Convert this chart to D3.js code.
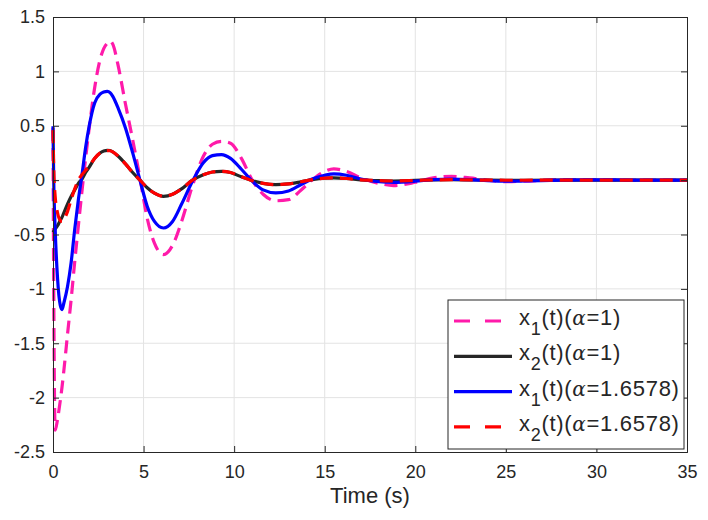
<!DOCTYPE html>
<html>
<head>
<meta charset="utf-8">
<script src="https://cdn.jsdelivr.net/npm/d3@7"></script>
<style>
  body { margin: 0; background: #fff; }
  text { font-family: "Liberation Sans", Arial, sans-serif; fill: #262626; }
</style>
</head>
<body>
<div id="chart"></div>
<script>
// sample times (s)
const time = [0, 0.04, 0.12, 0.25, 0.4, 0.5, 0.6, 0.8, 1.0, 1.2, 1.4, 1.6, 1.8, 2.0, 2.3, 2.6, 2.8, 3.0, 3.15, 3.3, 3.6, 4.0, 4.4, 4.8, 5.2, 5.6, 6.1, 6.6, 7.1, 7.7, 8.3, 8.8, 9.3, 9.8, 10.4, 11.0, 11.6, 12.3, 13.0, 13.7, 14.3, 15.0, 15.5, 16.2, 17.0, 18.0, 18.8, 20, 21, 22, 23, 24, 25, 26, 28, 30, 32, 35]

const x1a1 = [0.48, -1.0, -2.3, -2.2, -2.03, -1.9, -1.75, -1.42, -1.1, -0.75, -0.42, -0.1, 0.2, 0.48, 0.85, 1.11, 1.21, 1.26, 1.28, 1.25, 1.05, 0.7, 0.37, 0.02, -0.35, -0.58, -0.685, -0.6, -0.38, -0.05, 0.22, 0.33, 0.357, 0.34, 0.2, 0.0, -0.13, -0.19, -0.18, -0.09, 0.0, 0.08, 0.103, 0.08, 0.02, -0.03, -0.05, -0.02, 0.02, 0.035, 0.02, 0.0, -0.015, -0.01, 0.005, 0.005, 0, 0]

const x2a1 = [-0.48, -0.47, -0.45, -0.42, -0.37, -0.34, -0.3, -0.22, -0.15, -0.09, -0.03, 0.01, 0.07, 0.12, 0.2, 0.25, 0.267, 0.274, 0.272, 0.26, 0.22, 0.15, 0.07, 0.0, -0.07, -0.12, -0.149, -0.13, -0.08, 0.0, 0.05, 0.075, 0.081, 0.07, 0.03, -0.005, -0.03, -0.041, -0.035, -0.015, 0.005, 0.018, 0.02, 0.015, 0.003, -0.005, -0.008, -0.003, 0.002, 0.004, 0.002, 0, -0.001, -0.001, 0, 0, 0, 0]

const x1a2 = [0.495, 0.0, -0.45, -0.9, -1.15, -1.19, -1.13, -0.98, -0.76, -0.45, -0.18, 0.05, 0.3, 0.5, 0.71, 0.79, 0.81, 0.817, 0.805, 0.77, 0.66, 0.48, 0.25, 0.0, -0.24, -0.38, -0.44, -0.38, -0.22, -0.01, 0.16, 0.225, 0.235, 0.2, 0.1, -0.01, -0.09, -0.118, -0.1, -0.04, 0.01, 0.045, 0.057, 0.045, 0.01, -0.015, -0.02, -0.01, 0.005, 0.01, 0.005, -0.005, -0.01, -0.008, 0, 0.003, 0, 0]

const x2a2 = [0.46, 0.12, -0.15, -0.3, -0.37, -0.38, -0.36, -0.29, -0.18, -0.08, 0.0, 0.05, 0.09, 0.13, 0.2, 0.25, 0.265, 0.272, 0.27, 0.26, 0.22, 0.15, 0.07, 0.0, -0.07, -0.12, -0.149, -0.13, -0.08, 0.0, 0.05, 0.075, 0.081, 0.07, 0.03, -0.005, -0.03, -0.041, -0.035, -0.015, 0.005, 0.018, 0.02, 0.015, 0.003, -0.005, -0.008, -0.003, 0.002, 0.004, 0.002, 0, -0.001, -0.001, 0, 0, 0, 0]

const xTicks = [0, 5, 10, 15, 20, 25, 30, 35]
const yTicks = [-2.5, -2, -1.5, -1, -0.5, 0, 0.5, 1, 1.5]

const series = [
  { name: "x1a1", values: x1a1, sub: "1", alpha: "1", color: "#ff1aaa", dash: "13,7" },
  { name: "x2a1", values: x2a1, sub: "2", alpha: "1", color: "#262626", dash: null },
  { name: "x1a2", values: x1a2, sub: "1", alpha: "1.6578", color: "#0000ff", dash: null },
  { name: "x2a2", values: x2a2, sub: "2", alpha: "1.6578", color: "#ff0000", dash: "13,7" }
]

const width = 708
const height = 520
const margin = { top: 17, left: 53, bottom: 68, right: 21 }
const iwidth = width - margin.left - margin.right
const iheight = height - margin.top - margin.bottom

const svg = d3.select("#chart").append("svg")
  .attr("width", width)
  .attr("height", height)

const g = svg.append("g")
  .attr("transform", `translate(${margin.left}, ${margin.top})`)

const x = d3.scaleLinear().domain([0, 35]).range([0, iwidth])
const y = d3.scaleLinear().domain([-2.5, 1.5]).range([iheight, 0])

// grid
g.append("g")
  .attr("stroke", "#e3e3e3")
  .attr("stroke-width", 1)
  .call(g => g.selectAll(".vx").data(xTicks.slice(1, -1)).join("line")
    .attr("x1", d => x(d)).attr("x2", d => x(d))
    .attr("y1", 0).attr("y2", iheight))
  .call(g => g.selectAll(".hy").data(yTicks.slice(1, -1)).join("line")
    .attr("y1", d => y(d)).attr("y2", d => y(d))
    .attr("x1", 0).attr("x2", iwidth))

const plot = g.append("g")
const line = d3.line()
  .x((d, i) => x(time[i]))
  .y(d => y(d))
  .curve(d3.curveMonotoneX)

series.forEach(s => {
  plot.append("path")
    .datum(s.values)
    .attr("fill", "none")
    .attr("stroke", s.color)
    .attr("stroke-width", 3.2)
    .attr("stroke-dasharray", s.dash)
    .attr("d", line)
})

// axes, ticks inside, box
const axisColor = "#262626"
g.append("g")
  .attr("transform", `translate(0, ${iheight})`)
  .call(d3.axisBottom(x).tickValues(xTicks).tickSize(-6).tickPadding(13).tickFormat(d3.format("d")))
g.append("g")
  .call(d3.axisLeft(y).tickValues(yTicks).tickSize(-6).tickPadding(8).tickFormat(d => d))
g.append("g")
  .call(d3.axisTop(x).tickValues(xTicks).tickSize(-6).tickFormat(""))
g.append("g")
  .attr("transform", `translate(${iwidth}, 0)`)
  .call(d3.axisRight(y).tickValues(yTicks).tickSize(-6).tickFormat(""))

g.selectAll(".domain, .tick line").attr("stroke", axisColor)
g.selectAll(".tick text").attr("font-size", 18).attr("fill", axisColor)
  .style("font-family", "Liberation Sans, Arial, sans-serif")

g.append("text")
  .attr("x", iwidth / 2)
  .attr("y", iheight + 51)
  .attr("text-anchor", "middle")
  .attr("font-size", 22)
  .text("Time (s)")

// legend
const legend = svg.append("g").attr("transform", "translate(448, 300)")
legend.append("rect")
  .attr("width", 236).attr("height", 149)
  .attr("fill", "#fff")
  .attr("stroke", axisColor)
  .attr("stroke-width", 1)

series.forEach((s, i) => {
  const cy = 21 + i * 35.3
  legend.append("line")
    .attr("x1", 6).attr("x2", 64)
    .attr("y1", cy).attr("y2", cy)
    .attr("stroke", s.color)
    .attr("stroke-width", 3.2)
    .attr("stroke-dasharray", s.dash ? "16,15" : null)
  const t = legend.append("text")
    .attr("x", 71).attr("y", cy + 4)
    .attr("font-size", 22)
    .attr("letter-spacing", 0.7)
    .attr("fill", "#000")
  t.append("tspan").text("x")
  t.append("tspan").attr("dy", 10).attr("font-size", 18).text(s.sub)
  t.append("tspan").attr("dy", -10).text("(t)(")
  t.append("tspan").attr("font-family", "DejaVu Serif").attr("font-style", "italic").attr("font-size", 20).text("α")
  t.append("tspan").text("=" + s.alpha + ")")
})
</script>
</body>
</html>
